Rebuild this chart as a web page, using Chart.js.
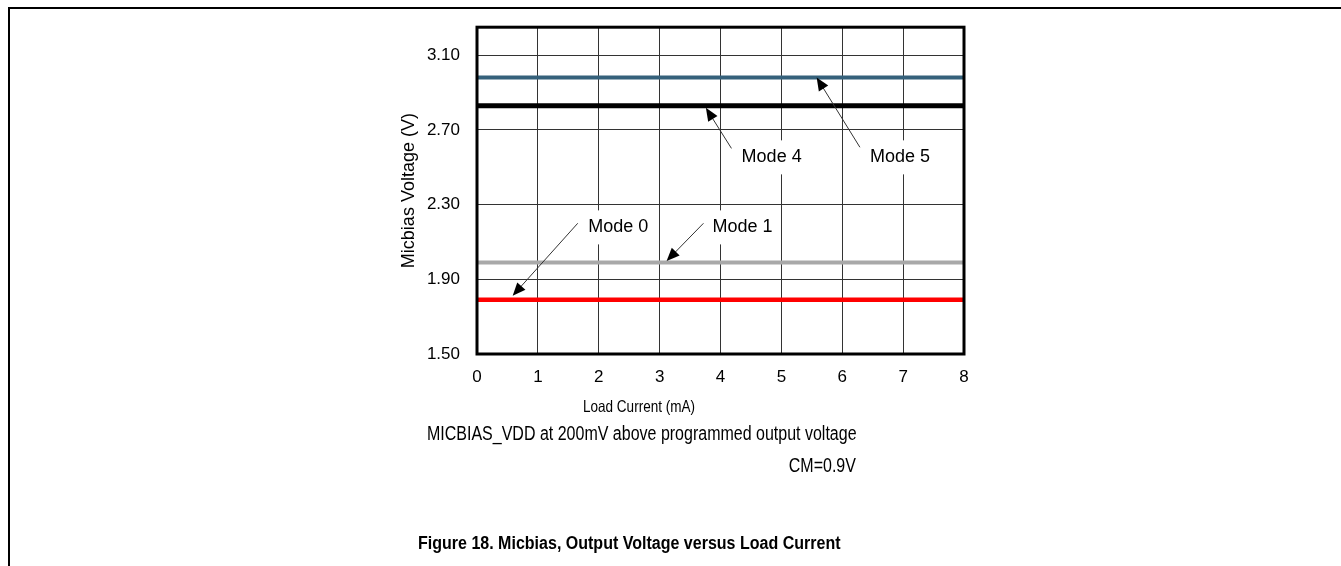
<!DOCTYPE html>
<html>
<head>
<meta charset="utf-8">
<script src="https://cdn.jsdelivr.net/npm/chart.js@4.4.1/dist/chart.umd.min.js"></script>
<style>
  html, body { margin: 0; padding: 0; background: #fff; width: 1341px; height: 566px; overflow: hidden; }
  #frame { position: absolute; left: 8px; top: 7px; right: 0; bottom: -10px; border-top: 2px solid #000; border-left: 2px solid #000; }
  #chart { position: absolute; left: 0; top: 0; }
  .cap { position: absolute; font-family: "Liberation Sans", Arial, sans-serif; color: #000; white-space: nowrap; line-height: 1; }
  #note1 { left: 427px; top: 423px; font-size: 20px; transform: scaleX(0.80); transform-origin: left top; }
  #note2 { right: 485px; top: 455px; font-size: 20px; transform: scaleX(0.80); transform-origin: right top; }
  #figTitle { left: 418px; top: 534px; font-size: 18px; font-weight: bold; transform: scaleX(0.89); transform-origin: left top; }
</style>
</head>
<body>
<div id="frame"></div>
<canvas id="chart" width="1341" height="566"></canvas>
<div class="cap" id="note1">MICBIAS_VDD at 200mV above programmed output voltage</div>
<div class="cap" id="note2">CM=0.9V</div>
<div class="cap" id="figTitle">Figure 18. Micbias, Output Voltage versus Load Current</div>
<script>
// valores
const loadCurrent = [0, 1, 2, 3, 4, 5, 6, 7, 8];
const mode0 = [1.79, 1.79, 1.79, 1.79, 1.79, 1.79, 1.79, 1.79, 1.79];
const mode1 = [1.99, 1.99, 1.99, 1.99, 1.99, 1.99, 1.99, 1.99, 1.99];
const mode4 = [2.83, 2.83, 2.83, 2.83, 2.83, 2.83, 2.83, 2.83, 2.83];
const mode5 = [2.98, 2.98, 2.98, 2.98, 2.98, 2.98, 2.98, 2.98, 2.98];
const yTicks = [1.5, 1.9, 2.3, 2.7, 3.1];
const xTicks = [0, 1, 2, 3, 4, 5, 6, 7, 8];

// rótulos com seta (coordenadas em unidades do gráfico)
const callouts = [
    { text: 'Mode 0', tx: 2.32, ty: 2.178, fx: 1.655, fy: 2.20, px: 0.586, py: 1.812 },
    { text: 'Mode 1', tx: 4.36, ty: 2.178, fx: 3.72, fy: 2.20, px: 3.115, py: 1.998 },
    { text: 'Mode 4', tx: 4.84, ty: 2.553, fx: 4.18, fy: 2.601, px: 3.76, py: 2.818 },
    { text: 'Mode 5', tx: 6.95, ty: 2.553, fx: 6.29, fy: 2.607, px: 5.58, py: 2.981 }
];

function toPoints(ys) {
    return loadCurrent.map((x, i) => ({ x: x, y: ys[i] }));
}

const calloutPlugin = {
    id: 'callouts',
    afterDatasetsDraw(chart) {
        const ctx = chart.ctx;
        const xs = chart.scales.x, ys = chart.scales.y;
        const a = chart.chartArea;

        // moldura do gráfico
        ctx.save();
        ctx.strokeStyle = '#000';
        ctx.lineWidth = 3;
        ctx.strokeRect(a.left, a.top, a.right - a.left, a.bottom - a.top);

        ctx.font = '18px "Liberation Sans", Arial, sans-serif';
        ctx.textAlign = 'center';
        ctx.textBaseline = 'middle';
        callouts.forEach(c => {
            const tx = xs.getPixelForValue(c.tx), ty = ys.getPixelForValue(c.ty);
            const w = ctx.measureText(c.text).width + 8;
            ctx.fillStyle = '#fff';
            ctx.fillRect(tx - w / 2, ty - 17, w, 34);
            ctx.fillStyle = '#000';
            ctx.fillText(c.text, tx, ty);

            const x1 = xs.getPixelForValue(c.fx), y1 = ys.getPixelForValue(c.fy);
            const x2 = xs.getPixelForValue(c.px), y2 = ys.getPixelForValue(c.py);
            const ang = Math.atan2(y2 - y1, x2 - x1);
            const len = 13, half = 5.5;
            ctx.strokeStyle = '#333';
            ctx.lineWidth = 1;
            ctx.beginPath();
            ctx.moveTo(x1, y1);
            ctx.lineTo(x2 - Math.cos(ang) * len * 0.8, y2 - Math.sin(ang) * len * 0.8);
            ctx.stroke();
            ctx.fillStyle = '#000';
            ctx.beginPath();
            ctx.moveTo(x2, y2);
            ctx.lineTo(x2 - Math.cos(ang) * len - Math.sin(ang) * half, y2 - Math.sin(ang) * len + Math.cos(ang) * half);
            ctx.lineTo(x2 - Math.cos(ang) * len + Math.sin(ang) * half, y2 - Math.sin(ang) * len - Math.cos(ang) * half);
            ctx.closePath();
            ctx.fill();
        });

        // título do eixo x (fora do centro, como no original)
        ctx.font = '16.5px "Liberation Sans", Arial, sans-serif';
        ctx.translate(639, 407);
        ctx.scale(0.82, 1);
        ctx.fillText('Load Current (mA)', 0, 0);
        ctx.restore();
    }
};

const line = (data, color, width) => ({
    data: toPoints(data),
    borderColor: color,
    backgroundColor: color,
    borderWidth: width,
    pointRadius: 0,
    tension: 0
});

new Chart(document.getElementById('chart'), {
    type: 'line',
    data: {
        datasets: [
            line(mode0, '#ff0000', 4.5),
            line(mode1, '#a9a9a9', 4),
            line(mode4, '#000000', 5),
            line(mode5, '#35617b', 4)
        ]
    },
    options: {
        responsive: false,
        animation: false,
        layout: { padding: { left: 394, top: 23, right: 377, bottom: 0 } },
        plugins: { legend: { display: false }, tooltip: { enabled: false } },
        scales: {
            x: {
                type: 'linear',
                min: 0,
                max: 8,
                afterFit(scale) { scale.height = 212; },
                afterBuildTicks(scale) { scale.ticks = xTicks.map(v => ({ value: v })); },
                grid: { color: '#333', lineWidth: 1, drawTicks: false },
                border: { display: false },
                ticks: {
                    color: '#000',
                    padding: 13,
                    maxRotation: 0,
                    font: { family: '"Liberation Sans", Arial, sans-serif', size: 17 }
                }
            },
            y: {
                type: 'linear',
                min: 1.5,
                max: 3.25,
                afterFit(scale) { scale.width = 83; },
                afterBuildTicks(scale) { scale.ticks = yTicks.map(v => ({ value: v })); },
                grid: { color: '#333', lineWidth: 1, drawTicks: false },
                border: { display: false },
                ticks: {
                    color: '#000',
                    padding: 17,
                    font: { family: '"Liberation Sans", Arial, sans-serif', size: 17 },
                    callback: v => v.toFixed(2)
                },
                title: {
                    display: true,
                    text: 'Micbias Voltage (V)',
                    color: '#000',
                    padding: { top: 4, bottom: 0 },
                    font: { family: '"Liberation Sans", Arial, sans-serif', size: 18 }
                }
            }
        }
    },
    plugins: [calloutPlugin]
});
</script>
</body>
</html>
